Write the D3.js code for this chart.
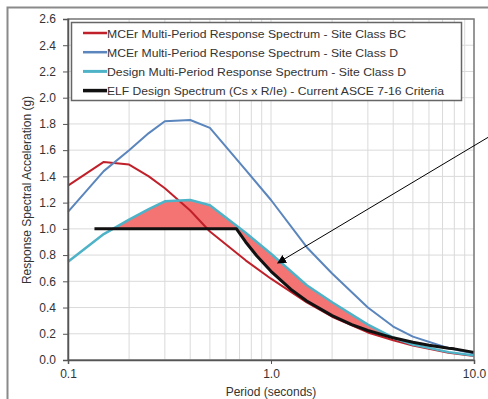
<!DOCTYPE html>
<html>
<head>
<meta charset="utf-8">
<script src="https://cdn.jsdelivr.net/npm/d3@7"></script>
<style>
  body { margin: 0; background: #fff; }
  svg { display: block; font-family: "Liberation Sans", Arial, sans-serif; }
</style>
</head>
<body>
<div id="chart"></div>
<script>
// periods (seconds) of the multi-period spectra
var periods = [0.1, 0.15, 0.2, 0.25, 0.3, 0.4, 0.5, 0.75, 1.0, 1.5, 2.0, 3.0, 4.0, 5.0, 7.5, 10.0];
var mcerBC  = [1.33, 1.51, 1.49, 1.40, 1.31, 1.14, 0.98, 0.76, 0.62, 0.44, 0.33, 0.21, 0.15, 0.11, 0.055, 0.03];
var mcerD   = [1.13, 1.44, 1.60, 1.73, 1.82, 1.83, 1.77, 1.45, 1.22, 0.86, 0.66, 0.40, 0.255, 0.178, 0.09, 0.05];
var designD = [0.75, 0.96, 1.07, 1.15, 1.21, 1.22, 1.18, 0.97, 0.81, 0.57, 0.44, 0.27, 0.17, 0.118, 0.06, 0.035];

// ELF design spectrum (Cs x R/Ie)
var elfPeriods = [0.135, 0.676, 0.75, 0.85, 1.0, 1.25, 1.5, 2.0, 2.5, 3.0, 4.0, 5.0, 6.0, 7.5, 8.0, 10.0];
var elfValues  = [1.0, 1.0, 0.90, 0.795, 0.676, 0.54, 0.45, 0.338, 0.27, 0.225, 0.169, 0.135, 0.113, 0.09, 0.085, 0.058];

var yTicks = [0, 0.2, 0.4, 0.6, 0.8, 1.0, 1.2, 1.4, 1.6, 1.8, 2.0, 2.2, 2.4, 2.6];
var xTicks = [0.1, 1, 10];
var xTickLabels = ["0.1", "1.0", "10.0"];

var legendLabels = [
  "MCEr Multi-Period Response Spectrum - Site Class BC",
  "MCEr Multi-Period Response Spectrum - Site Class D",
  "Design Multi-Period Response Spectrum - Site Class D",
  "ELF Design Spectrum (Cs x R/Ie) - Current ASCE 7-16 Criteria"
];
// measured widths of the legend texts in the picture
var legendTextWidths = [299, 291, 299, 337];

// arrow annotation, tip and tail in data units
var arrowTip = [1.08, 0.74];
var arrowTail = [11.8, 1.70];

var width = 488, height = 399;
var x = d3.scaleLog().domain([0.1, 10]).range([68, 474]);
var y = d3.scaleLinear().domain([0, 2.6]).range([360, 19]);

var svg = d3.select("#chart").append("svg")
    .attr("width", width)
    .attr("height", height);

// outer frame
svg.append("rect")
    .attr("x", 7.5).attr("y", 7.5)
    .attr("width", 490).attr("height", 400)
    .attr("fill", "#fff")
    .attr("stroke", "#8a8a8a")
    .attr("stroke-width", 2);

// grid
var grid = svg.append("g").attr("class", "grid");
grid.selectAll("line.v").data(x.ticks()).enter()
    .append("line")
    .attr("x1", function(d) { return x(d); })
    .attr("x2", function(d) { return x(d); })
    .attr("y1", y(0)).attr("y2", y(2.6))
    .attr("stroke", "#dadada").attr("stroke-width", 1);
grid.selectAll("line.h").data(yTicks).enter()
    .append("line")
    .attr("x1", x(0.1)).attr("x2", x(10))
    .attr("y1", function(d) { return y(d); })
    .attr("y2", function(d) { return y(d); })
    .attr("stroke", "#dadada").attr("stroke-width", 1);

// helpers: straight segments on the log axis
function interp(ps, vs, t) {
    if (t < ps[0] || t > ps[ps.length - 1]) return null;
    for (var i = 0; i < ps.length - 1; i++) {
        if (t >= ps[i] && t <= ps[i + 1]) {
            var f = (Math.log(t) - Math.log(ps[i])) / (Math.log(ps[i + 1]) - Math.log(ps[i]));
            return vs[i] + f * (vs[i + 1] - vs[i]);
        }
    }
    return null;
}

// red shading where the design spectrum exceeds ELF
var fillT = [];
var lo = Math.log(elfPeriods[0]), hi = Math.log(10);
for (var k = 0; k <= 600; k++) fillT.push(Math.exp(lo + (hi - lo) * k / 600));
var area = d3.area()
    .x(function(t) { return x(t); })
    .y0(function(t) { return y(interp(elfPeriods, elfValues, t)); })
    .y1(function(t) {
        var e = interp(elfPeriods, elfValues, t), d = interp(periods, designD, t);
        return y(Math.max(e, d));
    });
svg.append("path")
    .datum(fillT)
    .attr("d", area)
    .attr("fill", "#f47373");

// series
var line = d3.line()
    .x(function(d) { return x(d[0]); })
    .y(function(d) { return y(d[1]); });

function pairs(ps, vs) { return ps.map(function(p, i) { return [p, vs[i]]; }); }

var series = [
    { data: pairs(periods, mcerBC), color: "#c0202a", w: 2 },
    { data: pairs(periods, mcerD), color: "#5a85bd", w: 2 },
    { data: pairs(periods, designD), color: "#4fb3c8", w: 2.5 },
    { data: pairs(elfPeriods, elfValues), color: "#111", w: 3 }
];

svg.append("g").selectAll("path").data(series).enter()
    .append("path")
    .attr("d", function(s) { return line(s.data); })
    .attr("fill", "none")
    .attr("stroke", function(s) { return s.color; })
    .attr("stroke-width", function(s) { return s.w; })
    .attr("stroke-linejoin", "round");

// plot border
svg.append("rect")
    .attr("x", x(0.1)).attr("y", y(2.6))
    .attr("width", x(10) - x(0.1)).attr("height", y(0) - y(2.6))
    .attr("fill", "none")
    .attr("stroke", "#7a7a7a")
    .attr("stroke-width", 1.5);

// axes
var yAxis = svg.append("g")
    .attr("transform", "translate(" + x(0.1) + ",0)")
    .call(d3.axisLeft(y).tickValues(yTicks).tickFormat(d3.format(".1f")).tickSize(5).tickPadding(7));
var xAxis = svg.append("g")
    .attr("transform", "translate(0," + y(0) + ")")
    .call(d3.axisBottom(x).tickValues(xTicks)
        .tickFormat(function(d, i) { return xTickLabels[i]; })
        .tickSize(4).tickPadding(5));
[yAxis, xAxis].forEach(function(a) {
    a.select(".domain").attr("stroke", "#555").attr("stroke-width", 1.5);
    a.selectAll(".tick line").attr("stroke", "#555");
    a.selectAll("text").attr("font-size", 12).attr("fill", "#333")
        .attr("font-family", "Liberation Sans, Arial, sans-serif");
});

svg.append("text")
    .attr("x", (x(0.1) + x(10)) / 2).attr("y", 396)
    .attr("text-anchor", "middle")
    .attr("font-size", 12).attr("fill", "#333")
    .text("Period (seconds)");

svg.append("text")
    .attr("transform", "translate(31,190) rotate(-90)")
    .attr("text-anchor", "middle")
    .attr("font-size", 12).attr("fill", "#333")
    .text("Response Spectral Acceleration (g)");

// legend
var legend = svg.append("g");
legend.append("rect")
    .attr("x", 71.5).attr("y", 22.5)
    .attr("width", 390).attr("height", 78)
    .attr("fill", "#fff")
    .attr("stroke", "#666")
    .attr("stroke-width", 1.5);
var rows = legend.selectAll("g.row").data(series).enter()
    .append("g")
    .attr("transform", function(d, i) { return "translate(0," + (33 + i * 19.2) + ")"; });
rows.append("line")
    .attr("x1", 83).attr("x2", 107)
    .attr("stroke", function(s) { return s.color; })
    .attr("stroke-width", function(s) { return s.w + 0.5; });
rows.append("text")
    .attr("x", 107).attr("y", 4.5)
    .attr("font-size", 11.5).attr("fill", "#333")
    .attr("textLength", function(d, i) { return legendTextWidths[i]; })
    .attr("lengthAdjust", "spacingAndGlyphs")
    .text(function(d, i) { return legendLabels[i]; });

// arrow
svg.append("defs").append("marker")
    .attr("id", "head")
    .attr("viewBox", "0 0 10 10")
    .attr("refX", 9).attr("refY", 5)
    .attr("markerWidth", 9).attr("markerHeight", 9)
    .attr("markerUnits", "userSpaceOnUse")
    .attr("orient", "auto")
    .append("path").attr("d", "M0,0 L10,5 L0,10 z").attr("fill", "#000");
svg.append("line")
    .attr("x1", x(arrowTail[0])).attr("y1", y(arrowTail[1]))
    .attr("x2", x(arrowTip[0])).attr("y2", y(arrowTip[1]))
    .attr("stroke", "#000").attr("stroke-width", 1)
    .attr("marker-end", "url(#head)");
</script>
</body>
</html>
